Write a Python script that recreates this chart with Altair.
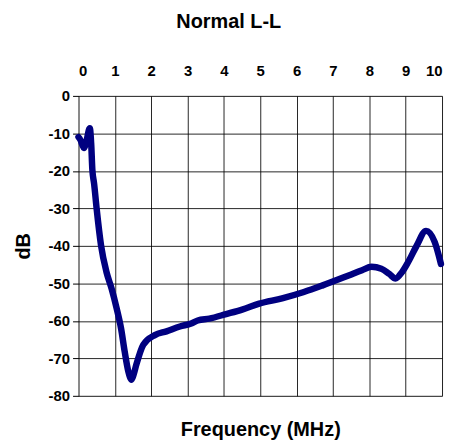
import altair as alt
import pandas as pd

freq = [0.0, 0.05, 0.15, 0.22, 0.31, 0.35, 0.38, 0.43, 0.5, 0.62, 0.77, 0.91, 1.05, 1.17, 1.27,
        1.37, 1.46, 1.52, 1.59, 1.78, 2.1, 2.42, 2.79, 3.1, 3.28, 3.6, 4.06, 4.5, 4.97, 5.6,
        6.2, 6.7, 7.43, 7.8, 8.06, 8.33, 8.55, 8.72, 8.9, 9.07, 9.3, 9.56, 9.8, 9.97]
db = [-11.0, -11.7, -13.9, -12.0, -8.6, -13.0, -19.6, -23.5, -30.2, -39.9, -47.0, -51.4, -56.7, -62.0, -68.2,
      -73.5, -75.7, -74.2, -71.7, -66.4, -63.8, -62.8, -61.5, -60.7, -59.9, -59.4, -58.2, -57.0, -55.4, -54.0,
      -52.3, -50.6, -47.9, -46.5, -45.6, -46.1, -47.5, -48.7, -47.0, -44.3, -40.0, -36.0, -39.0, -44.8]
x_ticks = list(range(0, 11))
y_ticks = list(range(-80, 1, 10))

df = pd.DataFrame({"freq": freq, "db": db})

FONT = "Liberation Sans"

xscale = alt.Scale(domain=[0, 10], nice=False, zero=False)
yscale = alt.Scale(domain=[-80, 0], nice=False)

yaxis = alt.Axis(title="dB", values=y_ticks, labelExpr="toString(datum.value)",
                 labelFont=FONT, labelFontWeight="bold", labelFontSize=15, labelColor="black",
                 labelPadding=3, tickSize=6, tickColor="black", tickWidth=1,
                 domain=False, labelOverlap=False,
                 titleFont=FONT, titleFontWeight="bold", titleFontSize=20, titleColor="black",
                 titlePadding=15,
                 grid=True, gridColor="black", gridOpacity=0.85, gridWidth=1)

line = alt.Chart(df).mark_line(color="#000080", strokeWidth=6.5, interpolate="monotone",
                               strokeCap="round", strokeJoin="round").encode(
    x=alt.X("freq:Q", scale=xscale,
            axis=alt.Axis(orient="top", title=None, values=x_ticks, labelExpr="toString(datum.value)",
                          labelFont=FONT, labelFontWeight="bold", labelFontSize=15, labelColor="black",
                          labelPadding=18, ticks=False, domain=False, labelOverlap=False,
                          grid=True, gridColor="black", gridOpacity=0.85, gridWidth=1)),
    y=alt.Y("db:Q", scale=yscale, axis=yaxis),
)

bottom = alt.Chart(pd.DataFrame({"a": [0]})).mark_rule(color="black", strokeWidth=0).encode(
    x=alt.X(datum=0, type="quantitative", scale=xscale,
            axis=alt.Axis(orient="bottom", title="Frequency (MHz)", labels=False, ticks=False,
                          domain=False, grid=False,
                          titleFont=FONT, titleFontWeight="bold", titleFontSize=20, titleColor="black",
                          titlePadding=24)),
    x2=alt.datum(10),
    y=alt.Y(datum=-80, type="quantitative", scale=yscale, axis=yaxis),
)

chart = alt.layer(line, bottom).properties(
    width=366, height=302,
    padding={"left": 5, "top": 3, "right": 0, "bottom": 0},
    title=alt.TitleParams("Normal L-L", font=FONT, fontSize=20, fontWeight="bold", color="black",
                          anchor="middle", frame="bounds", offset=31),
).configure_view(stroke="black", strokeWidth=2.5).configure(background="white")

chart.save("out.html", embed_options={"renderer": "svg", "actions": False})
